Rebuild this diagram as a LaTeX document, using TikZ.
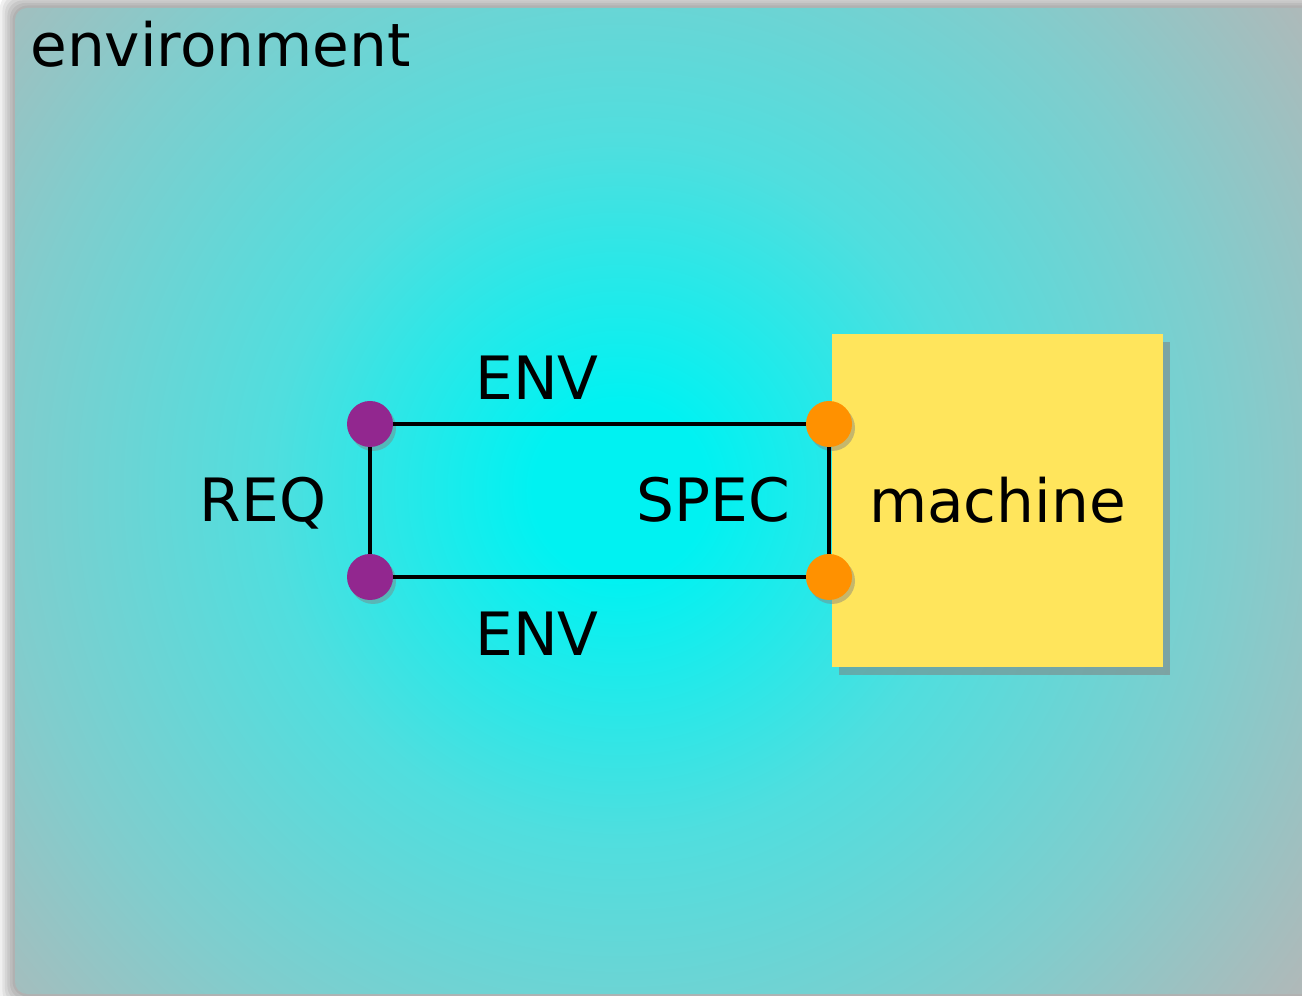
\documentclass[tikz,border=0pt]{standalone}
\usepackage{fontspec}
\setmainfont{DejaVu Sans}
\usepackage{tikz}
\usetikzlibrary{shadows}

\definecolor{glowA}{HTML}{00F2F2}
\definecolor{glowB}{HTML}{50DEDE}
\definecolor{glowC}{HTML}{80CDCD}
\definecolor{glowD}{HTML}{B6B6B6}
\definecolor{machineyellow}{HTML}{FFE55C}
\definecolor{reqpurple}{HTML}{92278F}
\definecolor{specorange}{HTML}{FF9100}

\pgfdeclareradialshading{envglow}{\pgfpoint{0bp}{0bp}}{%
    color(0bp)=(glowA); color(2.5bp)=(glowA); color(10bp)=(glowB);
    color(17.5bp)=(glowC); color(25bp)=(glowD); color(50bp)=(glowD)}

\begin{document}
\begin{tikzpicture}[
        font=\fontsize{34}{40}\selectfont,
        machine/.style={
            fill=machineyellow,
            inner sep=0pt,
            minimum width=6.62cm,
            minimum height=6.66cm,
            drop shadow={shadow xshift=0.14cm, shadow yshift=-0.16cm, opacity=0.55}
        },
        port/.style={
            circle,
            inner sep=0pt,
            minimum size=0.92cm,
            drop shadow={shadow xshift=0.06cm, shadow yshift=-0.08cm, opacity=0.45}
        },
        reqport/.style={port, fill=reqpurple},
        specport/.style={port, fill=specorange},
        tag/.style={anchor=base, inner sep=0pt},
        link/.style={line width=2.8pt}
    ]
        \useasboundingbox (0,0) rectangle (26.04,19.92);

        % soft halo round the environment
        \foreach \i in {1,...,6} {
            \fill[black, opacity=0.06, rounded corners=0.3cm]
                (0.30-0.05*\i,0.04-0.05*\i) rectangle (26.6,19.76+0.05*\i);
        }
        \begin{scope}
            \clip[rounded corners=0.24cm] (0.30,0.04) rectangle (26.6,19.76);
            \shade[shading=envglow] (12.4,10.12) circle (17.5cm);
        \end{scope}
        \node[anchor=base west, inner sep=0pt] (envname) at (0.6,18.58) {environment};

        \node[machine] (machine) at (19.95,9.91) {machine};

        \node[reqport] (reqtop) at (7.40,11.44) {};
        \node[reqport] (reqbot) at (7.40,8.38) {};
        \node[specport] (spectop) at (16.58,11.44) {};
        \node[specport] (specbot) at (16.58,8.38) {};

        \foreach \source/\target in {reqtop/spectop,reqbot/specbot,reqtop/reqbot,spectop/specbot} {
            \draw[link] (\source) -- (\target);
        }

        \node[tag] (envup) at (10.74,11.92) {ENV};
        \node[tag] (envdown) at (10.74,6.80) {ENV};
        \node[tag] (req) at (5.26,9.48) {REQ};
        \node[tag] (spec) at (14.26,9.48) {SPEC};
    \end{tikzpicture}
\end{document}
